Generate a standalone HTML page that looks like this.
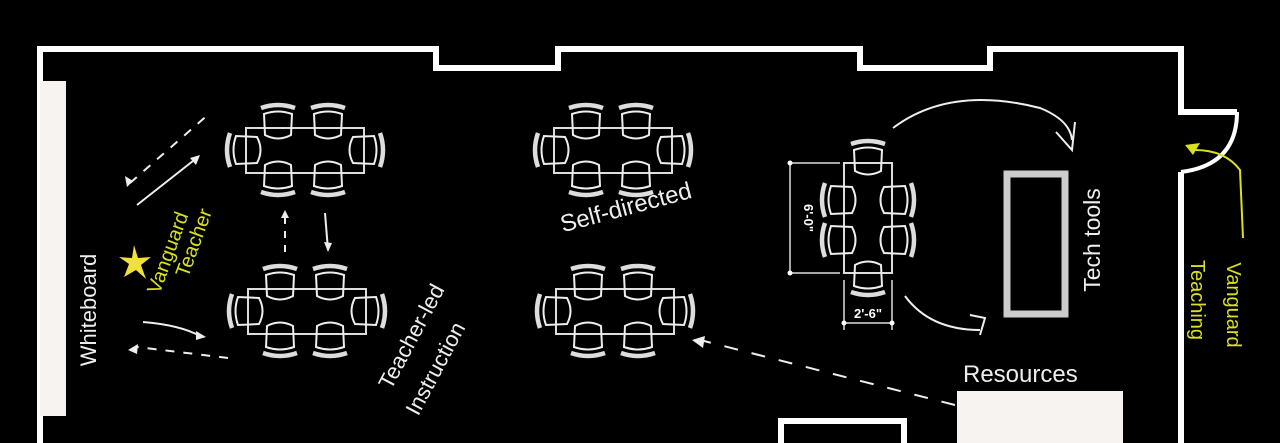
<!DOCTYPE html>
<html><head><meta charset="utf-8"><style>
html,body{margin:0;padding:0;background:#000;}
svg{display:block}
text{font-family:"Liberation Sans",sans-serif;}
</style></head><body>
<svg width="1280" height="443" viewBox="0 0 1280 443" xmlns="http://www.w3.org/2000/svg">
<defs>
<g id="ch" fill="none" stroke="#eee">
<path d="M-17,-17 Q0,-23 17,-17" stroke-width="4.5" stroke="#ddd"/>
<path d="M-14,-11 Q0,-16 14,-11 L13,10 Q0,17 -13,10 Z" stroke-width="2"/>
</g>
<g id="tbl">
<rect x="-59" y="-22" width="118" height="45" fill="none" stroke="#ddd" stroke-width="2"/>
<use href="#ch" transform="translate(-27,-25)"/>
<use href="#ch" transform="translate(23,-25)"/>
<use href="#ch" transform="translate(-27,25) rotate(180)"/>
<use href="#ch" transform="translate(23,25) rotate(180)"/>
<use href="#ch" transform="translate(-58,0) rotate(-90)"/>
<use href="#ch" transform="translate(58,0) rotate(90)"/>
</g>
</defs>
<rect width="1280" height="443" fill="#000"/>
<g fill="none" stroke="#fff" stroke-width="6">
<path d="M40,443 L40,49 L436,49 L436,68 L558,68 L558,49 L860,49 L860,68 L990,68 L990,49 L1181,49 L1181,112 L1237,112"/>
<path d="M1181,443 L1181,172"/>
<path d="M781,443 L781,421 L904,421 L904,443"/>
</g>
<path d="M1237,112 Q1237,165 1181,172" fill="none" stroke="#fff" stroke-width="4"/>
<rect x="40" y="81" width="26" height="335" fill="#f7f3f1"/>
<rect x="957" y="391" width="166" height="52" fill="#f7f3f1"/>
<use href="#tbl" transform="translate(305,150)"/>
<use href="#tbl" transform="translate(307,311)"/>
<use href="#tbl" transform="translate(613,150)"/>
<use href="#tbl" transform="translate(615,311)"/>
<g transform="translate(868,218) rotate(90)">
<rect x="-55" y="-24" width="110" height="48" fill="none" stroke="#ddd" stroke-width="2"/>
<use href="#ch" transform="translate(-18,-26)"/>
<use href="#ch" transform="translate(22,-26)"/>
<use href="#ch" transform="translate(-18,26) rotate(180)"/>
<use href="#ch" transform="translate(22,26) rotate(180)"/>
<use href="#ch" transform="translate(-57,0) rotate(-90)"/>
<use href="#ch" transform="translate(57,0) rotate(90)"/>
</g>
<g stroke="#ddd" stroke-width="1.5" fill="none">
<path d="M790,163 L840,163 M790,273 L840,273 M790,163 L790,273"/>
<path d="M844,280 L844,330 M892,280 L892,330 M844,323 L892,323"/>
</g>
<circle cx="790" cy="163" r="2.5" fill="#fff"/><circle cx="790" cy="273" r="2.5" fill="#fff"/>
<circle cx="844" cy="323" r="2.5" fill="#fff"/><circle cx="892" cy="323" r="2.5" fill="#fff"/>
<text x="868" y="318" fill="#fff" font-size="13" text-anchor="middle" font-weight="bold">2'-6"</text>
<text transform="translate(804,218) rotate(90)" fill="#fff" font-size="13" text-anchor="middle" font-weight="bold">6'-0"</text>
<rect x="1007" y="174" width="58" height="140" fill="none" stroke="#ccc" stroke-width="7"/>
<g fill="none" stroke="#eee" stroke-width="2">
<path d="M893,128 Q950,85 1040,108 Q1070,120 1072,140"/>
<path d="M1056,132 L1072,150 L1075,122"/>
<path d="M905,296 Q930,330 980,330"/>
<path d="M970,315 L985,318 L980,335"/>
<path d="M137,205 L198,157"/>
<path d="M130,183 L210,113" stroke-dasharray="9,9"/>
<path d="M143,322 Q180,325 200,336"/>
<path d="M228,358 L137,347" stroke-dasharray="9,9"/>
<path d="M285,252 L285,210" stroke-dasharray="7,7"/>
<path d="M325,213 L328,250"/>
<path d="M955,405 L700,340" stroke-dasharray="14,14"/>
</g>
<g fill="#eee">
<path d="M200,155 L190,158 L196,165 Z"/>
<path d="M127,187 L125,176 L133,181 Z"/>
<path d="M206,337 L196,331 L196,340 Z"/>
<path d="M128,350 L138,344 L137,354 Z"/>
<path d="M285,210 L281,218 L289,218 Z"/>
<path d="M328,252 L324,242 L332,243 Z"/>
<path d="M692,340 L705,336 L703,348 Z"/>
</g>
<path d="M1185,145 L1200,143 L1193,155 Z" fill="#d8e020"/>
<path d="M1243,238 L1240,170 Q1225,150 1195,150" fill="none" stroke="#d8e020" stroke-width="2"/>
<path d="M134,245 L138,258 L151,257 L141,265 L146,279 L136,270 L124,277 L129,264 L119,257 L132,258 Z" fill="#f2e03a"/>
<g fill="#eee" font-size="22">
<text transform="translate(96,310) rotate(-90)" text-anchor="middle">Whiteboard</text>
<text transform="translate(418,340) rotate(-62)" text-anchor="middle">Teacher-led</text>
<text transform="translate(442,372) rotate(-62)" text-anchor="middle">Instruction</text>
<text transform="translate(628,215) rotate(-15)" text-anchor="middle" font-size="24">Self-directed</text>
<text transform="translate(1100,240) rotate(-90)" text-anchor="middle" font-size="23">Tech tools</text>
<text x="963" y="382" font-size="24">Resources</text>
</g>
<g fill="#d8e020" font-size="20">
<text transform="translate(174,255) rotate(-70)" text-anchor="middle">Vanguard</text>
<text transform="translate(200,245) rotate(-70)" text-anchor="middle">Teacher</text>
<text transform="translate(1227,305) rotate(90)" text-anchor="middle">Vanguard</text>
<text transform="translate(1191,300) rotate(90)" text-anchor="middle">Teaching</text>
</g>
</svg>
</body></html>
